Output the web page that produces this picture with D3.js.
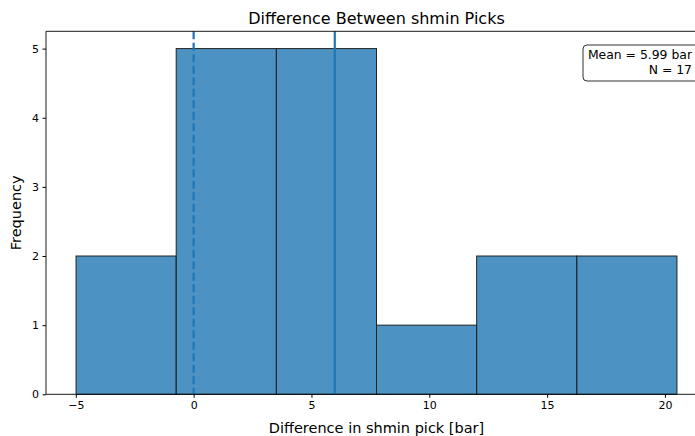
<!DOCTYPE html>
<html>
<head>
<meta charset="utf-8">
<script src="https://cdn.jsdelivr.net/npm/d3@7"></script>
<style>
  body { margin: 0; background: #fff; }
  svg { display: block; font-family: "DejaVu Sans", sans-serif; }
</style>
</head>
<body>
<div id="chart"></div>
<script>
// histogram bins (edges in bar) and counts per bin
const binEdges = [-4.99, -0.74, 3.51, 7.76, 12.01, 16.26, 20.51];
const binCounts = [2, 5, 5, 1, 2, 2];
const meanValue = 5.99;
const zeroLine = 0;
const nSamples = 17;
const xTicks = [-5, 0, 5, 10, 15, 20];
const yTicks = [0, 1, 2, 3, 4, 5];

const width = 695, height = 436;
const margin = {left: 46, top: 31.3, right: 707, bottom: 394.3}; // axes box in px (right spine is off-canvas)

const svg = d3.select("#chart").append("svg")
    .attr("width", width)
    .attr("height", height);

// matplotlib style 5% padding on x, 5% on top for y
const span = binEdges[binEdges.length - 1] - binEdges[0];
const x = d3.scaleLinear()
    .domain([binEdges[0] - span * 0.05, binEdges[binEdges.length - 1] + span * 0.05])
    .range([margin.left, margin.right]);
const yMax = d3.max(binCounts) * 1.05;
const y = d3.scaleLinear()
    .domain([0, yMax])
    .range([margin.bottom, margin.top]);

const bins = binCounts.map((c, i) => ({x0: binEdges[i], x1: binEdges[i + 1], count: c}));

// bars
svg.append("g").selectAll("rect")
  .data(bins)
  .enter().append("rect")
    .attr("x", d => x(d.x0))
    .attr("y", d => y(d.count))
    .attr("width", d => x(d.x1) - x(d.x0))
    .attr("height", d => y(0) - y(d.count))
    .attr("fill", "#1f77b4")
    .attr("fill-opacity", 0.8)
    .attr("stroke", "#222")
    .attr("stroke-width", 1);

// reference lines (zero dashed, mean solid)
svg.append("line")
    .attr("x1", x(zeroLine)).attr("x2", x(zeroLine))
    .attr("y1", margin.top).attr("y2", margin.bottom)
    .attr("stroke", "#1f77b4").attr("stroke-width", 2.2)
    .attr("stroke-dasharray", "8,3.5");
svg.append("line")
    .attr("x1", x(meanValue)).attr("x2", x(meanValue))
    .attr("y1", margin.top).attr("y2", margin.bottom)
    .attr("stroke", "#1f77b4").attr("stroke-width", 2.2);

// spines
svg.append("path")
    .attr("d", `M${margin.right},${margin.top}H${margin.left}V${margin.bottom}H${margin.right}`)
    .attr("fill", "none")
    .attr("stroke", "#000")
    .attr("stroke-width", 0.9);

// x axis
const xAxis = svg.append("g")
    .attr("transform", `translate(0,${margin.bottom})`)
    .call(d3.axisBottom(x).tickValues(xTicks).tickSize(3.5).tickPadding(3.5)
      .tickFormat(d => d < 0 ? "\u2212" + Math.abs(d) : d));
xAxis.select(".domain").remove();
xAxis.selectAll("text").attr("font-size", 11).attr("fill", "#000").attr("font-family", "DejaVu Sans");
xAxis.selectAll("line").attr("stroke", "#000");

// y axis
const yAxis = svg.append("g")
    .attr("transform", `translate(${margin.left},0)`)
    .call(d3.axisLeft(y).tickValues(yTicks).tickSize(3.5).tickPadding(3.5)
      .tickFormat(d3.format("d")));
yAxis.select(".domain").remove();
yAxis.selectAll("text").attr("font-size", 11).attr("fill", "#000").attr("font-family", "DejaVu Sans");
yAxis.selectAll("line").attr("stroke", "#000");

// title and labels
const cx = (margin.left + margin.right) / 2;
svg.append("text")
    .attr("x", cx).attr("y", 24)
    .attr("text-anchor", "middle")
    .attr("font-size", 16)
    .text("Difference Between shmin Picks");
svg.append("text")
    .attr("x", cx).attr("y", 433)
    .attr("text-anchor", "middle")
    .attr("font-size", 14.5)
    .text("Difference in shmin pick [bar]");
svg.append("text")
    .attr("transform", `translate(21,${(margin.top + margin.bottom) / 2}) rotate(-90)`)
    .attr("text-anchor", "middle")
    .attr("font-size", 14.5)
    .text("Frequency");

// stats box
const box = svg.append("g");
box.append("rect")
    .attr("x", 583).attr("y", 45)
    .attr("width", 120).attr("height", 36)
    .attr("rx", 4)
    .attr("fill", "#fff")
    .attr("stroke", "#333")
    .attr("stroke-width", 1);
box.append("text")
    .attr("x", 692).attr("y", 59)
    .attr("text-anchor", "end")
    .attr("font-size", 12.4)
    .text(`Mean = ${meanValue.toFixed(2)} bar`);
box.append("text")
    .attr("x", 692).attr("y", 74)
    .attr("text-anchor", "end")
    .attr("font-size", 12.4)
    .text(`N = ${nSamples}`);
</script>
</body>
</html>
